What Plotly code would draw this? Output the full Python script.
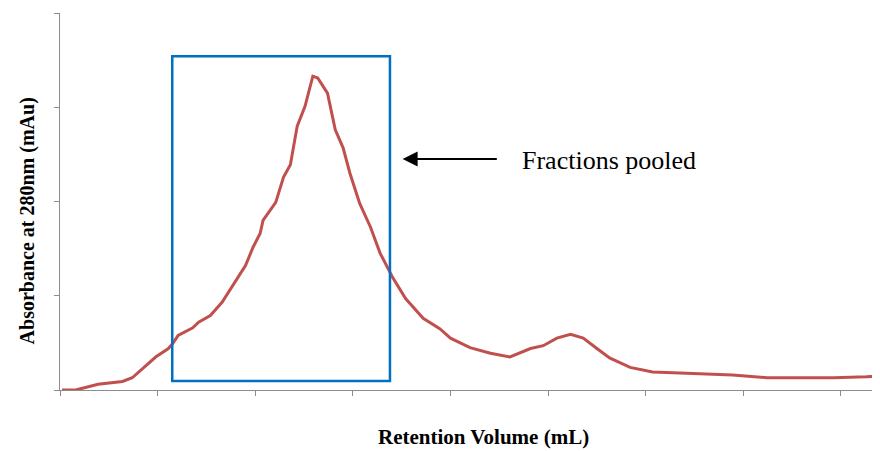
import plotly.graph_objects as go

retention = [0.02,0.16,0.39,0.64,0.74,0.88,0.98,1.11,1.16,1.21,1.36,1.42,1.54,1.66,1.72,1.82,1.90,1.98,2.05,2.08,
             2.21,2.29,2.36,2.43,2.51,2.59,2.64,2.74,2.82,2.90,2.97,3.07,3.18,3.28,3.41,3.54,3.72,3.89,4.00,4.20,
             4.41,4.61,4.71,4.82,4.95,5.09,5.23,5.36,5.50,5.63,5.84,6.07,6.35,6.56,6.89,7.24,7.58,7.93,8.26,8.40]
absorbance = [0.00,0.00,0.06,0.09,0.13,0.26,0.35,0.44,0.50,0.58,0.66,0.72,0.79,0.93,1.03,1.20,1.32,1.52,1.66,1.80,
              1.99,2.26,2.39,2.80,3.01,3.33,3.31,3.15,2.76,2.57,2.30,1.98,1.73,1.45,1.19,0.97,0.76,0.65,0.55,0.45,
              0.39,0.35,0.39,0.44,0.47,0.55,0.59,0.55,0.44,0.34,0.24,0.19,0.18,0.17,0.16,0.13,0.13,0.13,0.14,0.15]

pool_x = [1.15, 3.38]
pool_y = [0.095, 3.54]
arrow_tail = [4.49, 2.45]
arrow_head = [3.51, 2.45]
label_pos = [4.71, 2.43]
label_text = "Fractions pooled"
x_title = "Retention Volume (mL)"
y_title = "Absorbance at 280nm (mAu)"

fig = go.Figure()
fig.add_trace(go.Scatter(x=retention, y=absorbance, mode="lines",
                         line=dict(color="#C0504D", width=3), hoverinfo="skip", showlegend=False))

fig.add_shape(type="rect", xref="x", yref="y", x0=pool_x[0], x1=pool_x[1], y0=pool_y[0], y1=pool_y[1],
              line=dict(color="#0070C0", width=2.5), fillcolor="rgba(0,0,0,0)")

fig.add_annotation(x=arrow_head[0], y=arrow_head[1], ax=arrow_tail[0], ay=arrow_tail[1],
                   xref="x", yref="y", axref="x", ayref="y", text="", showarrow=True,
                   arrowhead=2, arrowsize=1.5, arrowwidth=2, arrowcolor="black")
fig.add_annotation(x=label_pos[0], y=label_pos[1], xref="x", yref="y", text=label_text, showarrow=False,
                   xanchor="left", yanchor="middle",
                   font=dict(family="Liberation Serif", size=26, color="black"))

fig.add_annotation(x=(19-52)/820, y=(381.6-213)/377, xref="paper", yref="paper", text="<b>"+y_title+"</b>",
                   showarrow=False, textangle=-90, xanchor="center", yanchor="middle",
                   font=dict(family="Liberation Serif", size=20, color="black"))
fig.add_annotation(x=(475-52)/820, y=(381.6-429)/377, xref="paper", yref="paper", text="<b>"+x_title+"</b>",
                   showarrow=False, xanchor="center", yanchor="middle",
                   font=dict(family="Liberation Serif", size=21, color="black"))

axis_common = dict(showgrid=False, zeroline=False, showline=True, linecolor="#8C8C8C", linewidth=1,
                   ticks="outside", ticklen=5, tickcolor="#8C8C8C", showticklabels=False, dtick=1)
fig.update_xaxes(range=[0, 8.4], tick0=0, **axis_common)
fig.update_yaxes(range=[0, 4], tick0=0, **axis_common)

fig.update_layout(width=872, height=443, margin=dict(l=52, r=0, t=5, b=61),
                  plot_bgcolor="white", paper_bgcolor="white")

fig.write_html("out.html")
